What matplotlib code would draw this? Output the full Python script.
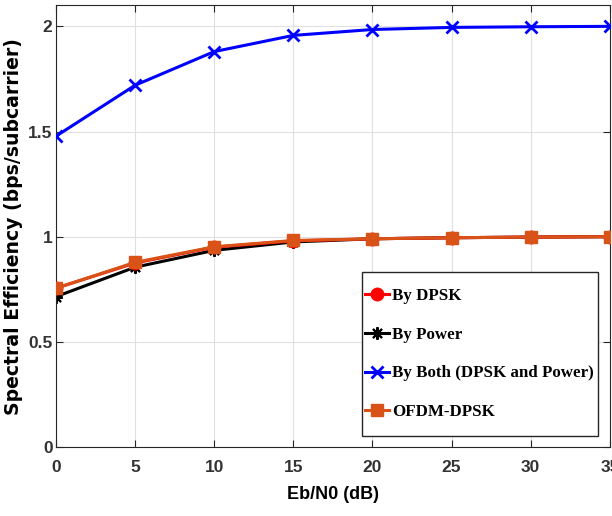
import matplotlib
matplotlib.use("Agg")
import matplotlib.pyplot as plt
from matplotlib.patches import Rectangle
from matplotlib import font_manager

ebn0 = [0, 5, 10, 15, 20, 25, 30, 35]
by_dpsk = [0.755, 0.875, 0.95, 0.98, 0.99, 0.995, 0.998, 1.0]
by_power = [0.715, 0.855, 0.935, 0.975, 0.99, 0.995, 0.998, 1.0]
by_both = [1.478, 1.72, 1.88, 1.957, 1.985, 1.995, 1.998, 2.0]
ofdm_dpsk = [0.755, 0.878, 0.952, 0.982, 0.99, 0.995, 0.998, 1.0]

xticks = [0, 5, 10, 15, 20, 25, 30, 35]
yticks = [0, 0.5, 1, 1.5, 2]
ytick_labels = ["0", "0.5", "1", "1.5", "2"]

names = {f.name for f in font_manager.fontManager.ttflist}
narrow = "Liberation Sans Narrow" if "Liberation Sans Narrow" in names else (
    "DejaVu Sans Condensed" if "DejaVu Sans Condensed" in names else "Liberation Sans")

fig = plt.figure(figsize=(6.12, 5.16), dpi=100)
ax = fig.add_axes([0.0915, 0.1337, 0.905, 0.856])

ax.plot(ebn0, by_dpsk, color="#ff0000", lw=2.2, marker="o", ms=9, label="By DPSK", zorder=3)
ax.plot(ebn0, by_power, color="black", lw=2.2, marker=(8, 2, 0), ms=9, mew=1.5, label="By Power", zorder=2)
ax.plot(ebn0, by_both, color="#0000ff", lw=2.2, marker="x", ms=9, mew=2, label="By Both (DPSK and Power)", zorder=3)
ax.plot(ebn0, ofdm_dpsk, color="#d95319", lw=2.2, marker="s", ms=8, label="OFDM-DPSK", zorder=4)

ax.set_xlim(0, 35)
ax.set_ylim(0, 2.1)
ax.set_xticks(xticks)
ax.set_yticks(yticks)
ax.set_yticklabels(ytick_labels)
ax.grid(True, color="#e0e0e0", lw=0.8)
ax.set_axisbelow(True)
ax.tick_params(direction="in", top=True, right=True, labelsize=12.5, colors="#262626", length=5)
ax.tick_params(axis="x", pad=9.5)
ax.tick_params(axis="y", pad=2.5)
for lab in ax.get_xticklabels() + ax.get_yticklabels():
    lab.set_fontweight("bold")
    lab.set_family(narrow)
    lab.set_color("#333333")
for s in ax.spines.values():
    s.set_color("#262626")
    s.set_linewidth(0.8)

ax.set_xlabel("Eb/N0 (dB)", fontsize=13, fontweight="bold", family=narrow, labelpad=8)
ax.set_ylabel("Spectral Efficiency (bps/subcarrier)", fontsize=13.6, fontweight="bold",
              family="DejaVu Sans", labelpad=4)

# legend frame box
frame = Rectangle((362 / 612, 1 - 436 / 516), 236 / 612, 164 / 516, transform=fig.transFigure,
                  facecolor="white", edgecolor="#262626", lw=1.0, zorder=5)
fig.patches.append(frame)

leg = ax.legend(loc="center left", bbox_to_anchor=(365 / 612, 1 - 354 / 516),
                bbox_transform=fig.transFigure, frameon=False,
                prop={"family": "Liberation Serif", "weight": "bold", "size": 12.2},
                handlelength=1.4, handletextpad=0.2, labelspacing=1.35, borderpad=0, borderaxespad=0)
leg.set_zorder(6)
leg.remove()
fig.legends.append(leg)
leg.set_figure(fig)

fig.savefig("out.png", dpi=100)
